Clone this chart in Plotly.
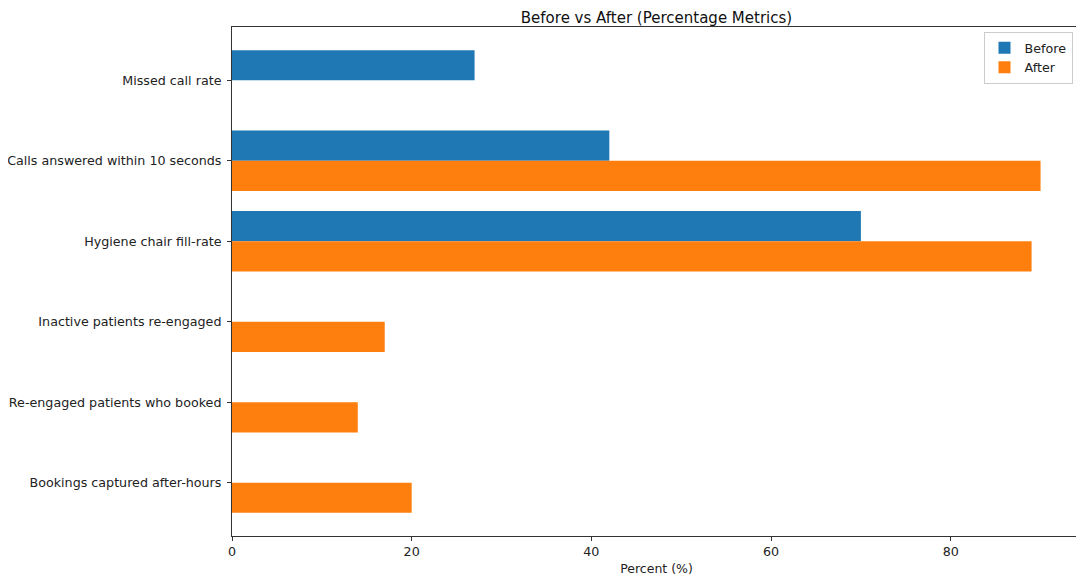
import plotly.graph_objects as go

categories = [
    "Missed call rate",
    "Calls answered within 10 seconds",
    "Hygiene chair fill-rate",
    "Inactive patients re-engaged",
    "Re-engaged patients who booked",
    "Bookings captured after-hours",
]
before_vals = [27, 42, 70, None, None, None]
after_vals = [None, 90, 89, 17, 14, 20]
x_ticks = [0, 20, 40, 60, 80]

font_family = "DejaVu Sans"

# the page is drawn with a small offset from the window corner; compensate
OFF = 7
W, H = 1084, 581
L, T = 231 - OFF, 26 - OFF
R, B = W - (1080 - OFF), H - (535 - OFF)

fig = go.Figure()
fig.add_trace(go.Bar(y=categories, x=before_vals, orientation="h", name="Before",
                     marker=dict(color="#1f77b4", line=dict(width=0))))
fig.add_trace(go.Bar(y=categories, x=after_vals, orientation="h", name="After",
                     marker=dict(color="#ff7f0e", line=dict(width=0))))

fig.update_layout(
    width=W, height=H,
    margin=dict(l=L, r=R, t=T, b=B, autoexpand=False),
    paper_bgcolor="white", plot_bgcolor="white",
    barmode="group", bargap=0.25, bargroupgap=0,
    font=dict(family=font_family, size=12.7, color="#222"),
    title=dict(text="Before vs After (Percentage Metrics)",
               x=((231 + 1080) / 2 - OFF) / W, automargin=False,
               xanchor="center", y=1 - 10 / H, yanchor="middle",
               font=dict(size=15, color="#111")),
    showlegend=True,
    legend=dict(x=0.99, xanchor="right", y=0.99, yanchor="top",
                bgcolor="rgba(255,255,255,0.8)", bordercolor="#cccccc", borderwidth=1,
                font=dict(size=12.7), traceorder="normal", tracegroupgap=0),
)
fig.update_xaxes(range=[0, 94.5], tickvals=x_ticks, ticks="outside", ticklen=4,
                 tickcolor="#333", showgrid=False, zeroline=False, automargin=False,
                 showline=True, linecolor="#333", linewidth=1, mirror=True,
                 title=dict(text="Percent (%)", font=dict(size=12.5), standoff=6),
                 tickfont=dict(size=12.7))
fig.update_yaxes(range=[5.6625, -0.6625], ticks="outside", ticklen=4, tickcolor="#333",
                 showgrid=False, zeroline=False, automargin=False,
                 showline=True, linecolor="#333", linewidth=1, mirror=True,
                 ticklabelstandoff=3,
                 tickfont=dict(size=12.7))

fig.write_html("out.html")
